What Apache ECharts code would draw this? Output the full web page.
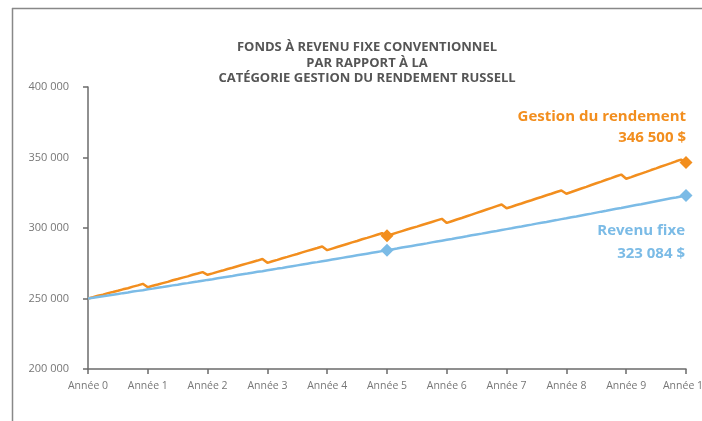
<!DOCTYPE html>
<html>
<head>
<meta charset="utf-8">
<script src="https://cdn.jsdelivr.net/npm/echarts@6/dist/echarts.min.js"></script>
<style>
  html, body { margin: 0; padding: 0; background: #fff; }
  #chart { width: 702px; height: 421px; }
</style>
</head>
<body>
<div id="chart"></div>
<script>
// valeurs mensuelles (mois 0 à 120)
const gestionRendement = [
  250000, 250900, 251900, 252700, 253800, 254600, 255500, 256500, 257300, 258400, 259300, 260400,
  258000, 259000, 259900, 260900, 261800, 262900, 263800, 264800, 265700, 266800, 267700, 268700,
  266800, 267800, 268900, 269800, 270900, 271800, 272900, 273900, 274900, 275900, 276900, 278000,
  275300, 276400, 277400, 278500, 279500, 280600, 281600, 282700, 283800, 284800, 285800, 286900,
  284300, 285400, 286500, 287600, 288700, 289800, 290800, 292000, 293000, 294100, 295200, 296300,
  294500, 295600, 296700, 297800, 298900, 300000, 301000, 302100, 303200, 304300, 305400, 306500,
  303600, 304800, 306000, 307100, 308300, 309500, 310700, 311900, 313100, 314300, 315500, 316700,
  314000, 315100, 316300, 317400, 318600, 319700, 320900, 322000, 323200, 324300, 325500, 326600,
  324300, 325500, 326800, 328000, 329200, 330500, 331700, 332900, 334200, 335400, 336700, 337900,
  334900, 336100, 337400, 338600, 339800, 341100, 342300, 343600, 344800, 346000, 347300, 348500,
  346500
];
const revenuFixe = [
  250000, 250500, 251100, 251600, 252200, 252700, 253200, 253800, 254300, 254900, 255400, 255900,
  256500, 257000, 257600, 258100, 258700, 259300, 259800, 260400, 260900, 261500, 262000, 262600,
  263200, 263700, 264300, 264900, 265500, 266000, 266600, 267200, 267700, 268300, 268900, 269400,
  270000, 270600, 271200, 271700, 272300, 272900, 273500, 274100, 274700, 275300, 275800, 276400,
  277000, 277600, 278200, 278800, 279400, 280000, 280600, 281200, 281800, 282400, 283000, 283600,
  284200, 284800, 285400, 286100, 286700, 287300, 287900, 288500, 289100, 289800, 290400, 291000,
  291600, 292200, 292900, 293500, 294100, 294800, 295400, 296000, 296700, 297300, 297900, 298600,
  299200, 299800, 300500, 301100, 301800, 302400, 303100, 303700, 304300, 305000, 305600, 306300,
  306900, 307600, 308200, 308900, 309600, 310200, 310900, 311600, 312200, 312900, 313600, 314200,
  314900, 315600, 316300, 316900, 317600, 318300, 319000, 319700, 320400, 321100, 321700, 322400,
  323084
];
const moisMarques = [60, 120];
const anneeLabels = ['Année 0', 'Année 1', 'Année 2', 'Année 3', 'Année 4', 'Année 5',
  'Année 6', 'Année 7', 'Année 8', 'Année 9', 'Année 10'];
const titre = 'FONDS À REVENU FIXE CONVENTIONNEL\nPAR RAPPORT À LA\nCATÉGORIE GESTION DU RENDEMENT RUSSELL';

const ORANGE = '#F28E1E';
const BLEU = '#7BBBE6';
const GRIS = '#6b6b6b';

function fmt(v) {
  return String(Math.round(v)).replace(/\B(?=(\d{3})+(?!\d))/g, ' ');
}

function toData(values) {
  return values.map(function (v, i) {
    if (moisMarques.indexOf(i) >= 0) {
      return { value: [i, v], symbol: 'diamond', symbolSize: 13 };
    }
    return [i, v];
  });
}

const myChart = echarts.init(document.getElementById('chart'));
const option = {
  animation: false,
  backgroundColor: '#fff',
  title: {
    text: titre,
    left: 362,
    textAlign: 'center',
    top: 35,
    textStyle: {
      fontFamily: 'Open Sans',
      fontSize: 13,
      fontWeight: 'bold',
      color: '#555',
      lineHeight: 15.5
    }
  },
  grid: { left: 88, right: 16, top: 87, bottom: 52, outerBoundsMode: 'none' },
  xAxis: {
    type: 'value',
    min: 0,
    max: 120,
    interval: 12,
    axisLine: { lineStyle: { color: GRIS, width: 1.5 } },
    axisTick: { show: true, length: 5, inside: false, lineStyle: { color: GRIS, width: 1.5 } },
    splitLine: { show: false },
    axisLabel: {
      margin: 12,
      color: '#777',
      fontSize: 10.5,
      fontFamily: 'Open Sans',
      showMaxLabel: true,
      formatter: function (v) { return anneeLabels[v / 12]; }
    }
  },
  yAxis: {
    type: 'value',
    min: 200000,
    max: 400000,
    interval: 50000,
    axisLine: { show: true, lineStyle: { color: GRIS, width: 1.5 } },
    axisTick: { show: true, length: 5, lineStyle: { color: GRIS, width: 1.5 } },
    splitLine: { show: false },
    axisLabel: {
      margin: 19,
      color: '#777',
      fontSize: 11,
      fontFamily: 'Open Sans',
      formatter: fmt
    }
  },
  series: [
    {
      name: 'Gestion du rendement',
      type: 'line',
      data: toData(gestionRendement),
      symbol: 'none',
      showSymbol: true,
      color: ORANGE,
      lineStyle: { color: ORANGE, width: 2.5 },
      itemStyle: { color: ORANGE }
    },
    {
      name: 'Revenu fixe',
      type: 'line',
      data: toData(revenuFixe),
      symbol: 'none',
      showSymbol: true,
      color: BLEU,
      lineStyle: { color: BLEU, width: 2.5 },
      itemStyle: { color: BLEU }
    }
  ],
  graphic: [
    { type: 'line', shape: { x1: 12, y1: 8.5, x2: 702, y2: 8.5 }, style: { stroke: '#888', lineWidth: 1.5 } },
    { type: 'line', shape: { x1: 12.5, y1: 8, x2: 12.5, y2: 421 }, style: { stroke: '#888', lineWidth: 1.5 } },
    {
      type: 'text', right: 16, top: 109,
      style: { text: 'Gestion du rendement', fill: ORANGE, font: 'bold 15px "Open Sans"', textAlign: 'right' }
    },
    {
      type: 'text', right: 16, top: 130,
      style: { text: fmt(gestionRendement[120]) + ' $', fill: ORANGE, font: 'bold 15px "Open Sans"', textAlign: 'right' }
    },
    {
      type: 'text', right: 17, top: 223,
      style: { text: 'Revenu fixe', fill: BLEU, font: 'bold 15px "Open Sans"', textAlign: 'right' }
    },
    {
      type: 'text', right: 17, top: 246,
      style: { text: fmt(revenuFixe[120]) + ' $', fill: BLEU, font: 'bold 15px "Open Sans"', textAlign: 'right' }
    }
  ]
};
myChart.setOption(option);
</script>
</body>
</html>
